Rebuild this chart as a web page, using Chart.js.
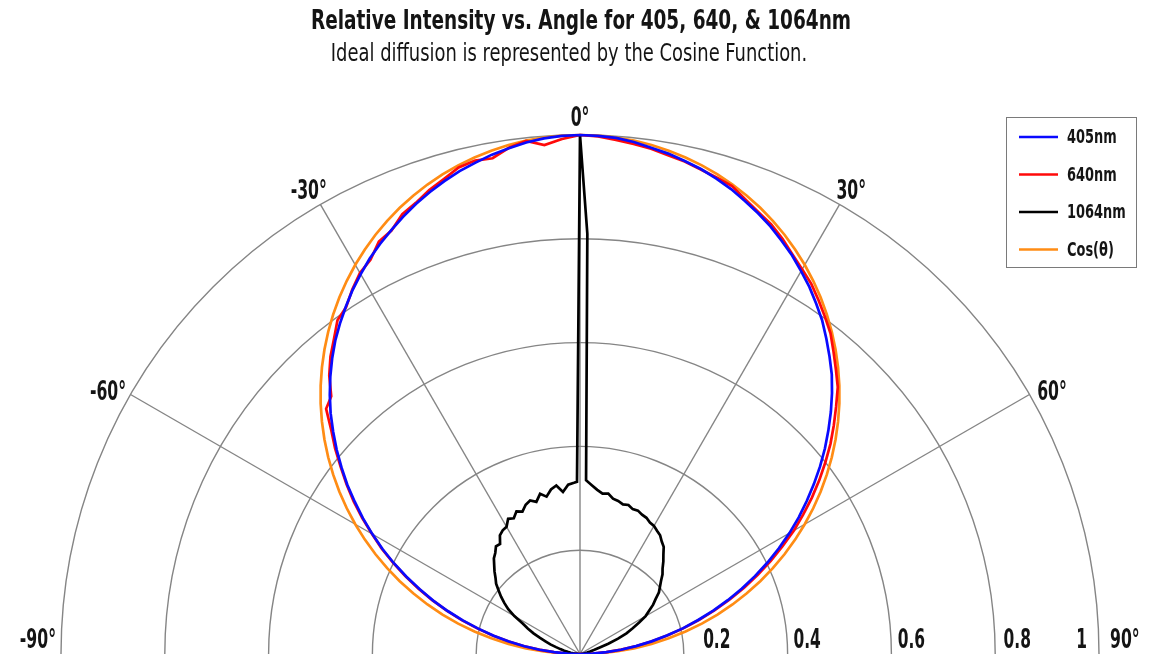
<!DOCTYPE html>
<html>
<head>
<meta charset="utf-8">
<script src="https://cdn.jsdelivr.net/npm/chart.js@4.4.1/dist/chart.umd.min.js"></script>
<style>
  html, body { margin: 0; padding: 0; overflow: hidden; background: #fff; width: 1163px; height: 654px; }
  #wrap { position: absolute; left: 0; top: 0; width: 1163px; height: 1200px; }
</style>
</head>
<body>
<div id="wrap"><canvas id="c"></canvas></div>
<script>
const FONT = '"DejaVu Sans Condensed", "Liberation Sans Narrow", sans-serif';

const titleText = 'Relative Intensity vs. Angle for 405, 640, & 1064nm';
const subtitleText = 'Ideal diffusion is represented by the Cosine Function.';

// Angles (degrees from normal) and measured relative intensities
const angles = [-90,-88,-86,-84,-82,-80,-78,-76,-74,-72,-70,-68,-66,-64,-62,-60,-58,-56,-54,-52,-50,-48,-46,-44,-42,-40,-38,-36,-34,-32,-30,-28,-26,-24,-22,-20,-18,-16,-14,-12,-10,-8,-6,-4,-2,0,2,4,6,8,10,12,14,16,18,20,22,24,26,28,30,32,34,36,38,40,42,44,46,48,50,52,54,56,58,60,62,64,66,68,70,72,74,76,78,80,82,84,86,88,90];

const nm405 = [0,0.024,0.050,0.078,0.108,0.139,0.170,0.202,0.235,0.268,0.301,0.333,0.366,0.399,0.431,0.462,0.493,0.523,0.554,0.583,0.612,0.640,0.668,0.694,0.719,0.743,0.766,0.787,0.807,0.827,0.845,0.863,0.879,0.894,0.909,0.923,0.936,0.948,0.959,0.968,0.977,0.984,0.991,0.996,0.999,1.000,0.999,0.997,0.992,0.985,0.979,0.971,0.963,0.953,0.942,0.929,0.916,0.902,0.886,0.870,0.852,0.834,0.814,0.794,0.771,0.748,0.725,0.699,0.672,0.644,0.616,0.587,0.557,0.527,0.497,0.466,0.434,0.402,0.369,0.336,0.303,0.270,0.236,0.204,0.171,0.140,0.109,0.079,0.051,0.024,0];

const nm640 = [0,0.025,0.051,0.080,0.110,0.141,0.172,0.204,0.237,0.270,0.303,0.335,0.368,0.400,0.433,0.463,0.495,0.526,0.556,0.585,0.616,0.645,0.680,0.690,0.722,0.748,0.770,0.795,0.806,0.828,0.848,0.860,0.884,0.893,0.914,0.925,0.940,0.952,0.966,0.972,0.970,0.985,0.994,0.983,0.993,1.000,0.998,0.993,0.988,0.983,0.976,0.970,0.962,0.955,0.948,0.932,0.918,0.906,0.890,0.872,0.856,0.841,0.822,0.803,0.784,0.760,0.737,0.715,0.686,0.658,0.630,0.600,0.570,0.539,0.507,0.476,0.442,0.409,0.375,0.341,0.307,0.273,0.239,0.206,0.173,0.141,0.110,0.080,0.051,0.025,0];

const cosTheta = [0,0.0349,0.0698,0.1045,0.1392,0.1736,0.2079,0.2419,0.2756,0.3090,0.3420,0.3746,0.4067,0.4384,0.4695,0.5000,0.5299,0.5592,0.5878,0.6157,0.6428,0.6691,0.6947,0.7193,0.7431,0.7660,0.7880,0.8090,0.8290,0.8480,0.8660,0.8829,0.8988,0.9135,0.9272,0.9397,0.9511,0.9613,0.9703,0.9781,0.9848,0.9903,0.9945,0.9976,0.9994,1.0000,0.9994,0.9976,0.9945,0.9903,0.9848,0.9781,0.9703,0.9613,0.9511,0.9397,0.9272,0.9135,0.8988,0.8829,0.8660,0.8480,0.8290,0.8090,0.7880,0.7660,0.7431,0.7193,0.6947,0.6691,0.6428,0.6157,0.5878,0.5592,0.5299,0.5000,0.4695,0.4384,0.4067,0.3746,0.3420,0.3090,0.2756,0.2419,0.2079,0.1736,0.1392,0.1045,0.0698,0.0349,0];

const angles1064 = [-90,-88,-86,-84,-82,-80,-78,-76,-74,-72,-70,-68,-66,-64,-62,-60,-58,-56,-54,-52,-50,-48,-46,-44,-42,-40,-38,-36,-34,-32,-30,-28,-26,-24,-22,-20,-18,-16,-14,-12,-10,-8,-6,-4,-2,-1,0,1,2,4,6,8,10,12,14,16,18,20,22,24,26,28,30,32,34,36,38,40,42,44,46,48,50,52,54,56,58,60,62,64,66,68,70,72,74,76,78,80,82,84,86,88,90];
const nm1064 = [0,0.004,0.008,0.013,0.018,0.024,0.031,0.039,0.048,0.060,0.070,0.083,0.098,0.112,0.125,0.146,0.163,0.176,0.188,0.199,0.211,0.219,0.229,0.238,0.248,0.254,0.263,0.262,0.276,0.281,0.283,0.295,0.291,0.301,0.296,0.306,0.311,0.305,0.318,0.310,0.322,0.328,0.314,0.327,0.330,0.332,1.000,0.810,0.335,0.326,0.318,0.312,0.314,0.306,0.304,0.300,0.302,0.297,0.298,0.294,0.292,0.287,0.285,0.280,0.276,0.268,0.262,0.250,0.240,0.229,0.221,0.210,0.201,0.193,0.180,0.170,0.157,0.146,0.129,0.113,0.098,0.079,0.058,0.040,0.029,0.020,0.014,0.010,0.007,0.005,0.003,0.001,0];

const seriesNames = ['405nm', '640nm', '1064nm', 'Cos(\u03B8)'];
const seriesColors = ['#0a0aff', '#ff0a0a', '#000000', '#ff8c14'];
const angleTicks = [-90, -60, -30, 0, 30, 60, 90];
const radialTicks = [0.2, 0.4, 0.6, 0.8, 1];

// one category per degree around the full circle (index i <-> angle i, negative angles wrap)
const labels = [];
for (let i = 0; i < 360; i++) labels.push(String(i <= 180 ? i : i - 360));
const idx = a => (a + 360) % 360;
function toRadar(a, v) {
  const arr = new Array(360).fill(null);
  a.forEach((ang, i) => { arr[idx(ang)] = v[i]; });
  return arr;
}

function condensedText(ctx, txt, x, y, font, align, sx) {
  ctx.save();
  ctx.font = font;
  ctx.textAlign = align;
  ctx.translate(x, y);
  ctx.scale(sx, 1);
  ctx.fillText(txt, 0, 0);
  ctx.restore();
}

const textPlugin = {
  id: 'polarText',
  afterDraw(chart) {
    const s = chart.scales.r;
    const ctx = chart.ctx;
    ctx.save();
    ctx.fillStyle = '#141414';
    ctx.textBaseline = 'middle';
    // title + subtitle
    condensedText(ctx, titleText, 581, 22, 'bold 26px ' + FONT, 'center', 0.79);
    condensedText(ctx, subtitleText, 569, 55, '24px ' + FONT, 'center', 0.83);
    // angle labels
    const af = 'bold 26px ' + FONT;
    angleTicks.forEach(a => {
      if (Math.abs(a) === 90) return;
      const sn = Math.abs(Math.sin(a * Math.PI / 180));
      const p = s.getPointPosition(idx(a), s.drawingArea + 20 + 7 * sn);
      condensedText(ctx, a + '\u00B0', p.x, p.y + 4.5 + 8 * sn, af, 'center', 0.67);
    });
    ctx.textBaseline = 'alphabetic';
    const outerR = s.getPointPosition(idx(90), s.drawingArea);
    const outerL = s.getPointPosition(idx(-90), s.drawingArea);
    condensedText(ctx, '-90\u00B0', outerL.x - 5, 648, af, 'right', 0.67);
    condensedText(ctx, '90\u00B0', outerR.x + 11, 648, af, 'left', 0.67);
    // radial tick labels along the 90 deg axis
    const tickShift = [33, 19.5, 20, 22, -17.5];
    radialTicks.forEach((v, i) => {
      const p = s.getPointPosition(idx(90), s.getDistanceFromCenterForValue(v));
      condensedText(ctx, String(v), p.x + tickShift[i], 648, af, 'center', 0.66);
    });
    // legend
    const bx = 1006.5, by = 117.5, bw = 130, bh = 150;
    ctx.fillStyle = '#fff';
    ctx.fillRect(bx, by, bw, bh);
    ctx.strokeStyle = '#7a7a7a';
    ctx.lineWidth = 1;
    ctx.strokeRect(bx, by, bw, bh);
    ctx.textBaseline = 'middle';
    chart.data.datasets.forEach((ds, i) => {
      const y = 137 + i * 37.5;
      ctx.strokeStyle = ds.borderColor;
      ctx.lineWidth = 2.6;
      ctx.beginPath(); ctx.moveTo(1019, y); ctx.lineTo(1058, y); ctx.stroke();
      ctx.fillStyle = '#141414';
      condensedText(ctx, ds.label, 1067, y + 1, 'bold 20px ' + FONT, 'left', 0.72);
    });
    ctx.restore();
  }
};

new Chart(document.getElementById('c'), {
  type: 'radar',
  data: {
    labels: labels,
    datasets: [
      { label: seriesNames[0], data: toRadar(angles, nm405), borderColor: seriesColors[0], order: 0 },
      { label: seriesNames[1], data: toRadar(angles, nm640), borderColor: seriesColors[1], order: 2 },
      { label: seriesNames[2], data: toRadar(angles1064, nm1064), borderColor: seriesColors[2], order: 1 },
      { label: seriesNames[3], data: toRadar(angles, cosTheta), borderColor: seriesColors[3], order: 3 }
    ].map(d => Object.assign(d, { fill: false, backgroundColor: 'transparent', borderWidth: 2.7, pointRadius: 0, spanGaps: true, tension: 0 }))
  },
  options: {
    responsive: true,
    maintainAspectRatio: false,
    animation: false,
    layout: { padding: { left: 61, right: 64, top: 135, bottom: 27 } },
    plugins: {
      legend: { display: false },
      tooltip: { enabled: false },
      title: { display: false },
      subtitle: { display: false }
    },
    scales: {
      r: {
        min: 0, max: 1, startAngle: 0,
        ticks: { display: false, stepSize: 0.2 },
        pointLabels: { display: false },
        grid: { circular: true, color: '#858585', lineWidth: 1.4 },
        angleLines: {
          color: '#858585',
          lineWidth: (ctx) => {
            const a = Number(labels[ctx.index]);
            return (Math.abs(a) < 90 && a % 30 === 0) ? 1.4 : 0;
          }
        }
      }
    }
  },
  plugins: [textPlugin]
});
</script>
</body>
</html>
